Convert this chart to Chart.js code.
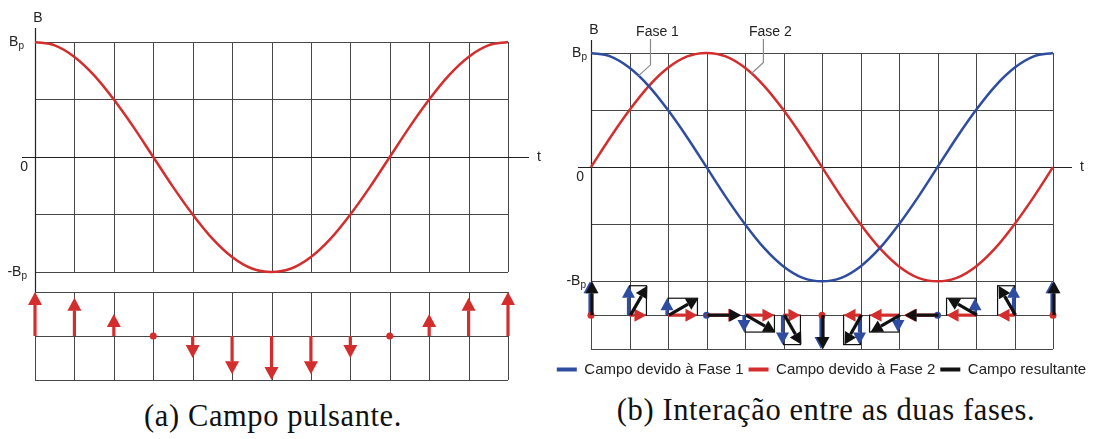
<!DOCTYPE html>
<html>
<head>
<meta charset="utf-8">
<script src="https://cdn.jsdelivr.net/npm/chart.js@4.4.0/dist/chart.umd.min.js"></script>
<style>
  body { margin: 0; background: #fff; width: 1095px; height: 439px; overflow: hidden; position: relative; }
  canvas { position: absolute; top: 0; }
  #ca { left: 0; }
  #cb { left: 548px; }
  .legenda { position: absolute; font-family: "Liberation Serif", serif; font-size: 30.5px; color: #111;
             white-space: nowrap; transform: translateX(-50%); letter-spacing: 0.6px; }
</style>
</head>
<body>
<canvas id="ca" width="548" height="390"></canvas>
<canvas id="cb" width="547" height="390"></canvas>
<div class="legenda" style="left:273px; top:399px">(a) Campo pulsante.</div>
<div class="legenda" style="left:826px; top:393px">(b) Interação entre as duas fases.</div>

<script>
// curvas (t em graus, passo de 15)
const angulos = [0, 15, 30, 45, 60, 75, 90, 105, 120, 135, 150, 165, 180,
                 195, 210, 225, 240, 255, 270, 285, 300, 315, 330, 345, 360]
const campoPulsante = [1, 0.97, 0.87, 0.71, 0.5, 0.26, 0, -0.26, -0.5, -0.71, -0.87, -0.97, -1,
                       -0.97, -0.87, -0.71, -0.5, -0.26, 0, 0.26, 0.5, 0.71, 0.87, 0.97, 1]
const fase1 = [1, 0.97, 0.87, 0.71, 0.5, 0.26, 0, -0.26, -0.5, -0.71, -0.87, -0.97, -1,
               -0.97, -0.87, -0.71, -0.5, -0.26, 0, 0.26, 0.5, 0.71, 0.87, 0.97, 1]
const fase2 = [0, 0.26, 0.5, 0.71, 0.87, 0.97, 1, 0.97, 0.87, 0.71, 0.5, 0.26, 0,
               -0.26, -0.5, -0.71, -0.87, -0.97, -1, -0.97, -0.87, -0.71, -0.5, -0.26, 0]

// setas (passo de 30)
const angulosSetas = [0, 30, 60, 90, 120, 150, 180, 210, 240, 270, 300, 330, 360]
const setasPulsante = [1, 0.87, 0.5, 0, -0.5, -0.87, -1, -0.87, -0.5, 0, 0.5, 0.87, 1]
const setasFase1 = [1, 0.87, 0.5, 0, -0.5, -0.87, -1, -0.87, -0.5, 0, 0.5, 0.87, 1]
const setasFase2 = [0, 0.5, 0.87, 1, 0.87, 0.5, 0, -0.5, -0.87, -1, -0.87, -0.5, 0]

const rotulosY = ['Bp', '0', '-Bp']

const VERMELHO = 'rgb(211,45,45)'
const AZUL = 'rgb(46,76,160)'
const PRETO = '#111'
const GRADE = '#474747'
const FONTE = '"Liberation Sans", Arial, sans-serif'

const pts = (xs, ys) => xs.map((x, i) => ({ x: x, y: ys[i] }))

function seta(ctx, x0, y0, x1, y1, cor, cab, larg) {
  const dx = x1 - x0, dy = y1 - y0
  const L = Math.hypot(dx, dy)
  if (L < 0.5) return
  const ux = dx / L, uy = dy / L
  const h = Math.min(cab, L)
  const bx = x1 - ux * h, by = y1 - uy * h
  ctx.strokeStyle = cor
  ctx.fillStyle = cor
  ctx.lineWidth = 3.2
  ctx.beginPath()
  ctx.moveTo(x0, y0)
  ctx.lineTo(bx, by)
  ctx.stroke()
  ctx.beginPath()
  ctx.moveTo(x1, y1)
  ctx.lineTo(bx - uy * larg / 2, by + ux * larg / 2)
  ctx.lineTo(bx + uy * larg / 2, by - ux * larg / 2)
  ctx.closePath()
  ctx.fill()
}

function ponto(ctx, x, y, cor) {
  ctx.fillStyle = cor
  ctx.beginPath()
  ctx.arc(x, y, 3.5, 0, Math.PI * 2)
  ctx.fill()
}

// "B" com subscrito p, alinhado à direita em xd
function textoB(ctx, txt, xd, ym) {
  ctx.font = '14px ' + FONTE
  const base = txt.slice(0, -1)
  const wb = ctx.measureText(base).width
  ctx.font = '10px ' + FONTE
  const wp = ctx.measureText('p').width
  const x0 = xd - wb - wp
  ctx.fillStyle = '#222'
  ctx.textAlign = 'left'
  ctx.textBaseline = 'middle'
  ctx.font = '14px ' + FONTE
  ctx.fillText(base, x0, ym)
  ctx.font = '10px ' + FONTE
  ctx.fillText('p', x0 + wb, ym + 4)
}

// eixo que só reserva espaço
const reserva = (extra, lado, tam) => Object.assign({
  display: true,
  ticks: { display: false },
  grid: { display: false },
  border: { display: false },
  afterFit: s => { s[lado] = tam }
}, extra)

// grade, eixos e rótulos
function grade(cfg) {
  return {
    id: 'grade',
    beforeDatasetsDraw(chart) {
      const { ctx, scales: { x, y, ys } } = chart
      const yTopo = y.getPixelForValue(1), yBase = y.getPixelForValue(-1)
      ctx.save()
      ctx.strokeStyle = GRADE
      ctx.lineWidth = 1
      ctx.beginPath()
      angulosSetas.forEach(a => {
        const px = Math.round(x.getPixelForValue(a)) + 0.5
        ctx.moveTo(px, yTopo); ctx.lineTo(px, yBase)
        ctx.moveTo(px, ys.top); ctx.lineTo(px, ys.bottom)
      })
      const hs = [1, 0.5, -0.5, -1].map(v => y.getPixelForValue(v))
        .concat([ys.top, ys.getPixelForValue(0), ys.bottom])
      hs.forEach(py => {
        const p = Math.round(py) + 0.5
        ctx.moveTo(x.left, p); ctx.lineTo(x.right, p)
      })
      ctx.stroke()

      // eixos
      ctx.strokeStyle = '#222'
      ctx.lineWidth = 1.2
      const y0 = Math.round(y.getPixelForValue(0)) + 0.5
      const xe = Math.round(x.left) + 0.5
      ctx.beginPath()
      ctx.moveTo(x.left - cfg.esq, y0); ctx.lineTo(x.right + cfg.dir, y0)
      ctx.moveTo(xe, yTopo - cfg.cima); ctx.lineTo(xe, ys.top)
      ctx.stroke()

      // rótulos
      ctx.fillStyle = '#222'
      ctx.font = '14px ' + FONTE
      ctx.textBaseline = 'middle'
      ctx.textAlign = 'center'
      ctx.fillText('B', x.left + 3, yTopo - cfg.cima + 2 - 12)
      ctx.textAlign = 'left'
      ctx.fillText('t', x.right + cfg.dir + 8, y0)
      textoB(ctx, rotulosY[0], x.left - cfg.rot, yTopo)
      ctx.font = '14px ' + FONTE
      ctx.textAlign = 'right'
      ctx.fillText(rotulosY[1], x.left - 7, y0 + 10)
      textoB(ctx, rotulosY[2], x.left - cfg.rotNeg, yBase)
      ctx.restore()
    },
    afterDatasetsDraw(chart) {
      const { ctx, scales: { x, y, ys } } = chart
      const base = ys.getPixelForValue(0)
      const k = base - ys.getPixelForValue(1)
      ctx.save()
      if (cfg.painel === 'a') {
        const meta = chart.getDatasetMeta(1)
        meta.data.forEach((p, i) => {
          if (setasPulsante[i] === 0) ponto(ctx, p.x, base, VERMELHO)
          else seta(ctx, p.x, base, p.x, p.y, VERMELHO, 13, 14)
        })
      } else {
        const mAz = chart.getDatasetMeta(2)
        mAz.data.forEach((p, i) => {
          const px = p.x
          const v = setasFase1[i], h = setasFase2[i]
          const xr = px + h * k, yr = base - v * k
          // retângulo da soma
          if (v !== 0 && h !== 0) {
            ctx.strokeStyle = PRETO
            ctx.lineWidth = 1.2
            ctx.strokeRect(Math.min(px, xr), Math.min(base, yr), Math.abs(xr - px), Math.abs(yr - base))
          }
          if (v === 0) ponto(ctx, px, base, AZUL)
          else seta(ctx, px - 1, base, px - 1, p.y, AZUL, 12, 13)
          if (h === 0) ponto(ctx, px, base, VERMELHO)
          else seta(ctx, px, base, px + h * k, base, VERMELHO, 12, 13)
          seta(ctx, px + 1, base, xr + 1, yr, PRETO, 12, 13)
        })

        // Fase 1 / Fase 2
        ctx.strokeStyle = '#8a8a8a'
        ctx.lineWidth = 1.2
        ctx.fillStyle = '#222'
        ctx.font = '14px ' + FONTE
        ctx.textAlign = 'center'
        ctx.textBaseline = 'middle'
        const marcas = [['Fase 1', 37, 0.8], ['Fase 2', 125, 0.82]]
        marcas.forEach(([txt, a, v]) => {
          const px = x.getPixelForValue(a), py = y.getPixelForValue(v)
          ctx.beginPath()
          ctx.moveTo(px, py)
          ctx.lineTo(px + 12, py - 11)
          ctx.lineTo(px + 12, y.top - 14)
          ctx.stroke()
          ctx.fillText(txt, px + 19, y.top - 21)
        })
      }
      ctx.restore()
    }
  }
}

const semInteracao = { legend: { display: false }, tooltip: { enabled: false } }

new Chart(document.getElementById('ca'), {
  type: 'line',
  data: {
    datasets: [
      { data: pts(angulos, campoPulsante), borderColor: VERMELHO, borderWidth: 2.5, pointRadius: 0,
        cubicInterpolationMode: 'monotone', clip: 5, yAxisID: 'y' },
      { data: pts(angulosSetas, setasPulsante), showLine: false, pointRadius: 0, yAxisID: 'ys' }
    ]
  },
  options: {
    responsive: false, animation: false, events: [],
    layout: { padding: { left: 35, top: 42, right: 40, bottom: 10 } },
    plugins: semInteracao,
    scales: {
      x: { type: 'linear', min: 0, max: 360, display: false },
      y: { min: -1.174, max: 1, display: false, position: 'left', stack: 'a', stackWeight: 250, weight: 2 },
      ys: { min: -1, max: 1, display: false, position: 'left', stack: 'a', stackWeight: 88, weight: 1 }
    }
  },
  plugins: [grade({ painel: 'a', esq: 13, dir: 21, cima: 14, rot: 11, rotNeg: 8 })]
})

new Chart(document.getElementById('cb'), {
  type: 'line',
  data: {
    datasets: [
      { label: 'Campo devido à Fase 1', data: pts(angulos, fase1), borderColor: AZUL, backgroundColor: AZUL,
        borderWidth: 2.5, pointRadius: 0, cubicInterpolationMode: 'monotone', clip: 5, yAxisID: 'y', legenda: true },
      { label: 'Campo devido à Fase 2', data: pts(angulos, fase2), borderColor: VERMELHO, backgroundColor: VERMELHO,
        borderWidth: 2.5, pointRadius: 0, cubicInterpolationMode: 'monotone', clip: 5, yAxisID: 'y', legenda: true },
      { label: 'setas fase 1', data: pts(angulosSetas, setasFase1), showLine: false, pointRadius: 0, yAxisID: 'ys' },
      { label: 'setas fase 2', data: pts(angulosSetas, setasFase2), showLine: false, pointRadius: 0, yAxisID: 'ys' },
      { label: 'Campo resultante', data: pts(angulosSetas, setasFase1), showLine: false, pointRadius: 0,
        borderColor: PRETO, backgroundColor: PRETO, yAxisID: 'ys', legenda: true }
    ]
  },
  options: {
    responsive: false, animation: false, events: [],
    layout: { padding: { left: 0, top: 53, right: 0, bottom: 3 } },
    plugins: {
      tooltip: { enabled: false },
      legend: {
        position: 'bottom',
        labels: {
          boxWidth: 20, boxHeight: 4, padding: 5, color: '#222',
          font: { family: FONTE, size: 15 },
          generateLabels(chart) {
            return Chart.defaults.plugins.legend.labels.generateLabels(chart)
              .map(l => Object.assign(l, { lineWidth: 0 }))
          },
          filter: (item, data) => data.datasets[item.datasetIndex].legenda
        }
      }
    },
    scales: {
      x: reserva({ type: 'linear', min: 0, max: 360 }, 'height', 8),
      y: reserva({ min: -1, max: 1, position: 'left', stack: 'b', stackWeight: 226, weight: 2 }, 'width', 43),
      ys: reserva({ min: -1, max: 1, position: 'left', stack: 'b', stackWeight: 67, weight: 1 }, 'width', 43),
      yd: reserva({ position: 'right' }, 'width', 42)
    }
  },
  plugins: [grade({ painel: 'b', esq: 13, dir: 19, cima: 13, rot: 4, rotNeg: 5 })]
})
</script>
</body>
</html>
